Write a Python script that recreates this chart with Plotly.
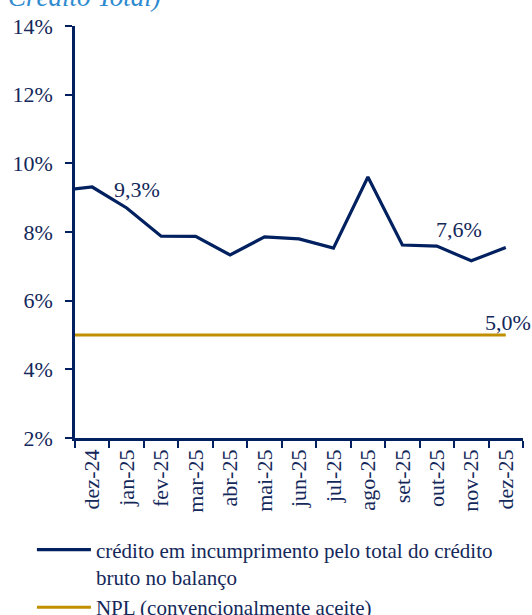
import plotly.graph_objects as go

# Data
categories = ["nov-24", "dez-24", "jan-25", "fev-25", "mar-25", "abr-25", "mai-25", "jun-25",
              "jul-25", "ago-25", "set-25", "out-25", "nov-25", "dez-25"]
credito_incumprimento = [9.20, 9.31, 8.70, 7.88, 7.87, 7.33, 7.86, 7.80, 7.53, 9.60, 7.62, 7.59, 7.16, 7.55]
npl_aceite = [5.0] * len(categories)
y_ticks = [2, 4, 6, 8, 10, 12, 14]
y_ticktext = ["2%", "4%", "6%", "8%", "10%", "12%", "14%"]

NAVY = "#002060"
TEXT = "#14285a"
GOLD = "#C09000"
FONT = "Liberation Serif"

fig = go.Figure()
fig.add_trace(go.Scatter(
    x=categories, y=credito_incumprimento, mode="lines",
    line=dict(color=NAVY, width=3.2),
    name="crédito em incumprimento pelo total do crédito<br>bruto no balanço",
))
fig.add_trace(go.Scatter(
    x=categories, y=npl_aceite, mode="lines",
    line=dict(color=GOLD, width=3.2),
    name="NPL (convencionalmente aceite)",
))

fig.update_layout(
    width=532, height=615,
    margin=dict(l=75, r=9, t=26, b=177, autoexpand=False),
    paper_bgcolor="white", plot_bgcolor="white",
    font=dict(family=FONT, size=22, color=TEXT),
    showlegend=True,
    legend=dict(
        x=0.060, y=0.139, xref="container", yref="container",
        xanchor="left", yanchor="top", itemwidth=54, valign="top",
        orientation="v", font=dict(family=FONT, size=21, color=TEXT),
        bgcolor="rgba(0,0,0,0)", tracegroupgap=0,
    ),
    xaxis=dict(
        type="category", categoryorder="array", categoryarray=categories,
        range=[0.5, 13.5], tickangle=-90, tickson="boundaries", automargin=False,
        ticks="outside", ticklen=7, tickwidth=2, tickcolor=NAVY,
        showline=True, linecolor=NAVY, linewidth=2.5,
        showgrid=False, zeroline=False, tickfont=dict(family=FONT, size=22, color=TEXT),
    ),
    yaxis=dict(
        range=[2, 14], tickvals=y_ticks, ticktext=y_ticktext, automargin=False,
        ticks="outside", ticklen=7, tickwidth=2, tickcolor=NAVY, ticklabelstandoff=8,
        showline=True, linecolor=NAVY, linewidth=2.5,
        showgrid=False, zeroline=False, tickfont=dict(family=FONT, size=22, color=TEXT),
    ),
    annotations=[
        dict(text="9,3%", x=2.29, y=9.25, xref="x", yref="y", showarrow=False,
             xanchor="center", yanchor="middle", font=dict(family=FONT, size=22, color=TEXT)),
        dict(text="7,6%", x=11.65, y=8.06, xref="x", yref="y", showarrow=False,
             xanchor="center", yanchor="middle", font=dict(family=FONT, size=22, color=TEXT)),
        dict(text="5,0%", x=1.022, y=5.35, xref="paper", yref="y", showarrow=False,
             xanchor="right", yanchor="middle", font=dict(family=FONT, size=22, color=TEXT)),
        dict(text="<i>Crédito Total)</i>", x=-0.155, y=1.03, xref="paper", yref="paper",
             showarrow=False, xanchor="left", yanchor="bottom",
             font=dict(family=FONT, size=27, color="#2E8BD0")),
    ],
)

fig.write_html("out.html", config={"displayModeBar": False},
               post_script="document.body.style.margin='0';")
